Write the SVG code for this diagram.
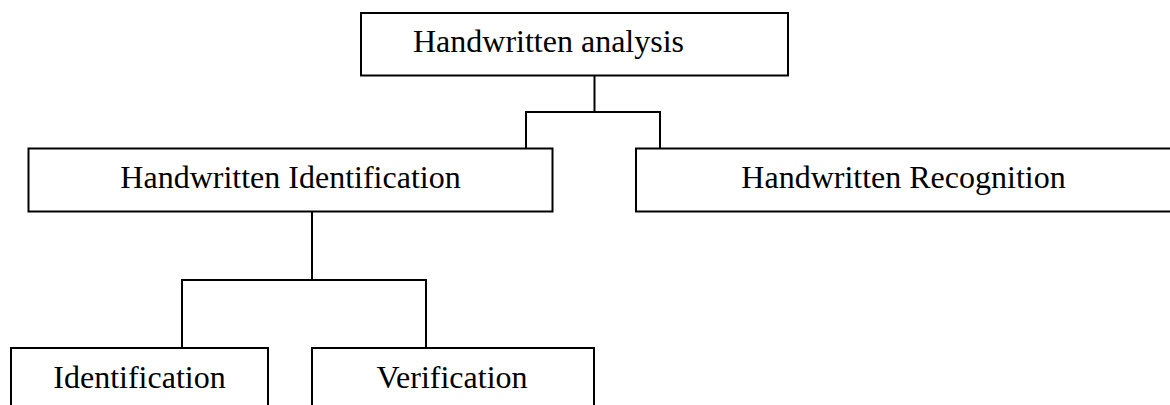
<svg xmlns="http://www.w3.org/2000/svg" width="1170" height="405" viewBox="0 0 1170 405">
  <style>
    .box { fill: #ffffff; stroke: #000000; stroke-width: 2; }
    .link { fill: none; stroke: #000000; stroke-width: 2; }
    .label { font-family: "Liberation Serif", "Times New Roman", serif; font-size: 32px; fill: #000000; }
  </style>
  <rect width="1170" height="405" fill="#ffffff"/>

  <!-- tree connectors -->
  <g id="connectors">
    <path class="link" d="M594.5 75.5 V112"/>
    <path class="link" d="M526 148.5 V112 H660 V148.5"/>
    <path class="link" d="M312 211.5 V280"/>
    <path class="link" d="M182 348 V280 H426 V348"/>
  </g>

  <g id="node-analysis">
    <rect class="box" x="361" y="13" width="427" height="62.5"/>
    <text class="label" x="413" y="52">Handwritten analysis</text>
  </g>

  <g id="node-hw-identification">
    <rect class="box" x="28.5" y="148.5" width="524" height="63"/>
    <text class="label" x="290.5" y="188" text-anchor="middle">Handwritten Identification</text>
  </g>

  <g id="node-hw-recognition">
    <rect class="box" x="636" y="148.5" width="545" height="63"/>
    <text class="label" x="903.5" y="188" text-anchor="middle">Handwritten Recognition</text>
  </g>

  <g id="node-identification">
    <rect class="box" x="11" y="348" width="257" height="90"/>
    <text class="label" x="139.5" y="388" text-anchor="middle">Identification</text>
  </g>

  <g id="node-verification">
    <rect class="box" x="312" y="348" width="282" height="90"/>
    <text class="label" x="452" y="388" text-anchor="middle">Verification</text>
  </g>
</svg>
